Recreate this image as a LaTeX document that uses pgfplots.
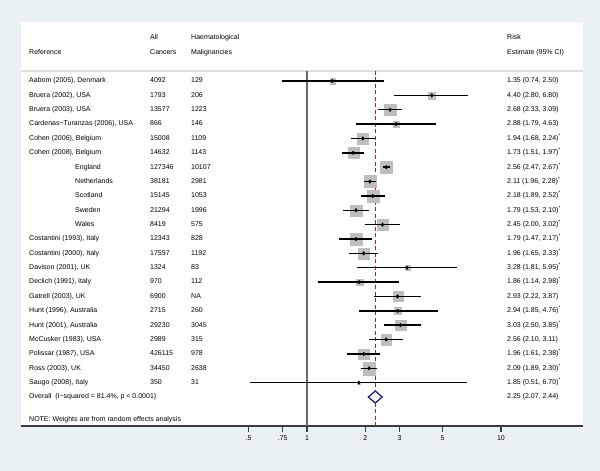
\documentclass[border=0pt]{standalone}
\usepackage{pgfplots}
\pgfplotsset{compat=1.18}
\usepackage{pgfplotstable}
\usepackage{fontspec}
\setmainfont{Liberation Sans}
\definecolor{bgblue}{RGB}{234,241,244}
\definecolor{sqgray}{RGB}{190,190,190}
\definecolor{refred}{RGB}{160,35,45}
\definecolor{navy}{RGB}{26,35,126}
\definecolor{hdrline}{RGB}{222,222,222}
\definecolor{axgray}{RGB}{60,60,60}
\definecolor{nullgray}{RGB}{105,105,105}

% row, point estimate, 95% CI, half side of weight square (pt)
\pgfplotstableread{
row est lo hi half
1 1.35 0.74 2.50 2.7
2 4.40 2.80 6.80 3.6
3 2.68 2.33 3.09 5.6
4 2.88 1.79 4.63 3.2
5 1.94 1.68 2.24 5.6
6 1.73 1.51 1.97 5.6
7 2.56 2.47 2.67 6.3
8 2.11 1.96 2.28 6.0
9 2.18 1.89 2.52 6.0
10 1.79 1.53 2.10 5.6
11 2.45 2.00 3.02 5.3
12 1.79 1.47 2.17 5.6
13 1.96 1.65 2.33 5.3
14 3.28 1.81 5.95 2.5
15 1.86 1.14 2.98 3.3
16 2.93 2.22 3.87 5.0
17 2.94 1.85 4.76 3.3
18 3.03 2.50 3.85 5.3
19 2.56 2.10 3.11 5.3
20 1.96 1.61 2.38 5.3
21 2.09 1.89 2.30 6.3
22 1.85 0.51 6.70 1.0
}\studies

\tikzset{txt/.style={anchor=west, inner sep=0pt, text height=5pt, text depth=1.3pt}}

\begin{document}
\begin{tikzpicture}[font=\fontsize{7}{8.4}\selectfont]
\path[use as bounding box] (0,0) rectangle (600pt,-471pt);
\fill[bgblue] (0,0) rectangle (600pt,-471pt);
\fill[white] (21pt,-22pt) rectangle (583pt,-426pt);
\draw[hdrline, line width=1.8pt] (21pt,-71pt) -- (583pt,-71pt);

\begin{axis}[
  scale only axis, width=562pt, height=404pt,
  at={(21pt,-426pt)}, anchor=south west,
  xmode=log, xmin=0.03356, xmax=26.47,
  ymin=-25.018, ymax=3.107,
  clip marker paths=true,
  axis x line=bottom, axis y line=none,
  axis line style={-},
  x axis line style={-, line width=1.5pt, axgray},
  xtick={0.5,0.75,1,2,3,5,10},
  xticklabels={.5,.75,1,2,3,5,10},
  minor xtick={}, ytick=\empty,
  tick align=outside, major tick length=6pt,
  xtick style={axgray, line width=1.2pt},
  xticklabel style={font=\fontsize{7}{8.4}\selectfont, inner sep=1.5pt, yshift=-1.5pt},
]
% null line and overall estimate line
\addplot[nullgray, line width=1.5pt] coordinates {(1,-0.304) (1,-25.018)};
\addplot[refred, line width=1pt, dash pattern=on 4pt off 2.5pt] coordinates {(2.25,-0.304) (2.25,-25.018)};
% weight squares
\addplot[sqgray, scatter, only marks, mark=square*,
  mark options={draw=sqgray, fill=sqgray, line width=0.1pt},
  scatter/use mapped color={draw=sqgray, fill=sqgray},
  visualization depends on={\thisrow{half} \as \hs},
  scatter/@pre marker code/.append style={/tikz/mark size=\hs}]
  table[x=est, y expr=-\thisrow{row}] {\studies};
% confidence intervals
\addplot[black, line width=1.5pt, unbounded coords=jump] coordinates {
(0.74,-1) (2.50,-1) (nan,nan)
(2.80,-2) (6.80,-2) (nan,nan)
(2.33,-3) (3.09,-3) (nan,nan)
(1.79,-4) (4.63,-4) (nan,nan)
(1.68,-5) (2.24,-5) (nan,nan)
(1.51,-6) (1.97,-6) (nan,nan)
(2.47,-7) (2.67,-7) (nan,nan)
(1.96,-8) (2.28,-8) (nan,nan)
(1.89,-9) (2.52,-9) (nan,nan)
(1.53,-10) (2.10,-10) (nan,nan)
(2.00,-11) (3.02,-11) (nan,nan)
(1.47,-12) (2.17,-12) (nan,nan)
(1.65,-13) (2.33,-13) (nan,nan)
(1.81,-14) (5.95,-14) (nan,nan)
(1.14,-15) (2.98,-15) (nan,nan)
(2.22,-16) (3.87,-16) (nan,nan)
(1.85,-17) (4.76,-17) (nan,nan)
(2.50,-18) (3.85,-18) (nan,nan)
(2.10,-19) (3.11,-19) (nan,nan)
(1.61,-20) (2.38,-20) (nan,nan)
(1.89,-21) (2.30,-21) (nan,nan)
(0.51,-22) (6.70,-22)
};
% point estimates
\addplot[black, only marks, mark=diamond*, mark size=1.9pt,
  mark options={draw=black, fill=black, line width=0.3pt}]
  table[x=est, y expr=-\thisrow{row}] {\studies};
% overall diamond
\addplot[navy, line width=1.3pt, fill=white] coordinates {
(2.07,-23) (2.25,-22.58) (2.44,-23) (2.25,-23.42)} -- cycle;
\end{axis}

\begin{axis}[
  scale only axis, width=562pt, height=404pt,
  at={(21pt,-426pt)}, anchor=south west,
  xmin=21, xmax=583, ymin=-25.018, ymax=3.107,
  hide axis, clip=false]
% headers
\node[txt] at (axis cs:29,1) {Reference};
\node[txt] at (axis cs:150,2) {All};
\node[txt] at (axis cs:150,1) {Cancers};
\node[txt] at (axis cs:191,2) {Haematological};
\node[txt] at (axis cs:191,1) {Malignancies};
\node[txt] at (axis cs:507,2) {Risk};
\node[txt] at (axis cs:507,1) {Estimate (95\% CI)};
% study names
\node[txt] at (axis cs:29,-1) {Aabom (2005), Denmark};
\node[txt] at (axis cs:29,-2) {Bruera (2002), USA};
\node[txt] at (axis cs:29,-3) {Bruera (2003), USA};
\node[txt] at (axis cs:29,-4) {Cardenas−Turanzas (2006), USA};
\node[txt] at (axis cs:29,-5) {Cohen (2006), Belgium};
\node[txt] at (axis cs:29,-6) {Cohen (2008), Belgium};
\node[txt] at (axis cs:75,-7) {England};
\node[txt] at (axis cs:75,-8) {Netherlands};
\node[txt] at (axis cs:75,-9) {Scotland};
\node[txt] at (axis cs:75,-10) {Sweden};
\node[txt] at (axis cs:75,-11) {Wales};
\node[txt] at (axis cs:29,-12) {Costantini (1993), Italy};
\node[txt] at (axis cs:29,-13) {Costantini (2000), Italy};
\node[txt] at (axis cs:29,-14) {Davison (2001), UK};
\node[txt] at (axis cs:29,-15) {Declich (1991), Italy};
\node[txt] at (axis cs:29,-16) {Gatrell (2003), UK};
\node[txt] at (axis cs:29,-17) {Hunt (1996), Australia};
\node[txt] at (axis cs:29,-18) {Hunt (2001), Australia};
\node[txt] at (axis cs:29,-19) {McCusker (1983), USA};
\node[txt] at (axis cs:29,-20) {Polissar (1987), USA};
\node[txt] at (axis cs:29,-21) {Ross (2003), UK};
\node[txt] at (axis cs:29,-22) {Saugo (2008), Italy};
\node[txt] at (axis cs:29,-23) {Overall\ \ (I−squared = 81.4\%, p < 0.0001)};
\node[txt] at (axis cs:29,-24.55) {NOTE: Weights are from random effects analysis};
% all cancers
\node[txt] at (axis cs:150,-1) {4092};
\node[txt] at (axis cs:150,-2) {1793};
\node[txt] at (axis cs:150,-3) {13577};
\node[txt] at (axis cs:150,-4) {866};
\node[txt] at (axis cs:150,-5) {15008};
\node[txt] at (axis cs:150,-6) {14632};
\node[txt] at (axis cs:150,-7) {127346};
\node[txt] at (axis cs:150,-8) {38181};
\node[txt] at (axis cs:150,-9) {15145};
\node[txt] at (axis cs:150,-10) {21294};
\node[txt] at (axis cs:150,-11) {8419};
\node[txt] at (axis cs:150,-12) {12343};
\node[txt] at (axis cs:150,-13) {17597};
\node[txt] at (axis cs:150,-14) {1324};
\node[txt] at (axis cs:150,-15) {970};
\node[txt] at (axis cs:150,-16) {6900};
\node[txt] at (axis cs:150,-17) {2715};
\node[txt] at (axis cs:150,-18) {29230};
\node[txt] at (axis cs:150,-19) {2989};
\node[txt] at (axis cs:150,-20) {426115};
\node[txt] at (axis cs:150,-21) {34450};
\node[txt] at (axis cs:150,-22) {350};
% haematological
\node[txt] at (axis cs:191,-1) {129};
\node[txt] at (axis cs:191,-2) {206};
\node[txt] at (axis cs:191,-3) {1223};
\node[txt] at (axis cs:191,-4) {146};
\node[txt] at (axis cs:191,-5) {1109};
\node[txt] at (axis cs:191,-6) {1143};
\node[txt] at (axis cs:191,-7) {10107};
\node[txt] at (axis cs:191,-8) {2981};
\node[txt] at (axis cs:191,-9) {1053};
\node[txt] at (axis cs:191,-10) {1996};
\node[txt] at (axis cs:191,-11) {575};
\node[txt] at (axis cs:191,-12) {828};
\node[txt] at (axis cs:191,-13) {1192};
\node[txt] at (axis cs:191,-14) {83};
\node[txt] at (axis cs:191,-15) {112};
\node[txt] at (axis cs:191,-16) {NA};
\node[txt] at (axis cs:191,-17) {260};
\node[txt] at (axis cs:191,-18) {3045};
\node[txt] at (axis cs:191,-19) {315};
\node[txt] at (axis cs:191,-20) {978};
\node[txt] at (axis cs:191,-21) {2638};
\node[txt] at (axis cs:191,-22) {31};
% risk estimates
\node[txt] at (axis cs:507,-1) {1.35 (0.74, 2.50)};
\node[txt] at (axis cs:507,-2) {4.40 (2.80, 6.80)};
\node[txt] at (axis cs:507,-3) {2.68 (2.33, 3.09)};
\node[txt] at (axis cs:507,-4) {2.88 (1.79, 4.63)};
\node[txt] at (axis cs:507,-5) {1.94 (1.68, 2.24)\textsuperscript{*}};
\node[txt] at (axis cs:507,-6) {1.73 (1.51, 1.97)\textsuperscript{*}};
\node[txt] at (axis cs:507,-7) {2.56 (2.47, 2.67)\textsuperscript{*}};
\node[txt] at (axis cs:507,-8) {2.11 (1.96, 2.28)\textsuperscript{*}};
\node[txt] at (axis cs:507,-9) {2.18 (1.89, 2.52)\textsuperscript{*}};
\node[txt] at (axis cs:507,-10) {1.79 (1.53, 2.10)\textsuperscript{*}};
\node[txt] at (axis cs:507,-11) {2.45 (2.00, 3.02)\textsuperscript{*}};
\node[txt] at (axis cs:507,-12) {1.79 (1.47, 2.17)\textsuperscript{*}};
\node[txt] at (axis cs:507,-13) {1.96 (1.65, 2.33)\textsuperscript{*}};
\node[txt] at (axis cs:507,-14) {3.28 (1.81, 5.95)\textsuperscript{*}};
\node[txt] at (axis cs:507,-15) {1.86 (1.14, 2.98)\textsuperscript{*}};
\node[txt] at (axis cs:507,-16) {2.93 (2.22, 3.87)};
\node[txt] at (axis cs:507,-17) {2.94 (1.85, 4.76)\textsuperscript{*}};
\node[txt] at (axis cs:507,-18) {3.03 (2.50, 3.85)\textsuperscript{*}};
\node[txt] at (axis cs:507,-19) {2.56 (2.10, 3.11)};
\node[txt] at (axis cs:507,-20) {1.96 (1.61, 2.38)\textsuperscript{*}};
\node[txt] at (axis cs:507,-21) {2.09 (1.89, 2.30)\textsuperscript{*}};
\node[txt] at (axis cs:507,-22) {1.85 (0.51, 6.70)\textsuperscript{*}};
\node[txt] at (axis cs:507,-23) {2.25 (2.07, 2.44)};
\end{axis}
\end{tikzpicture}
\end{document}
